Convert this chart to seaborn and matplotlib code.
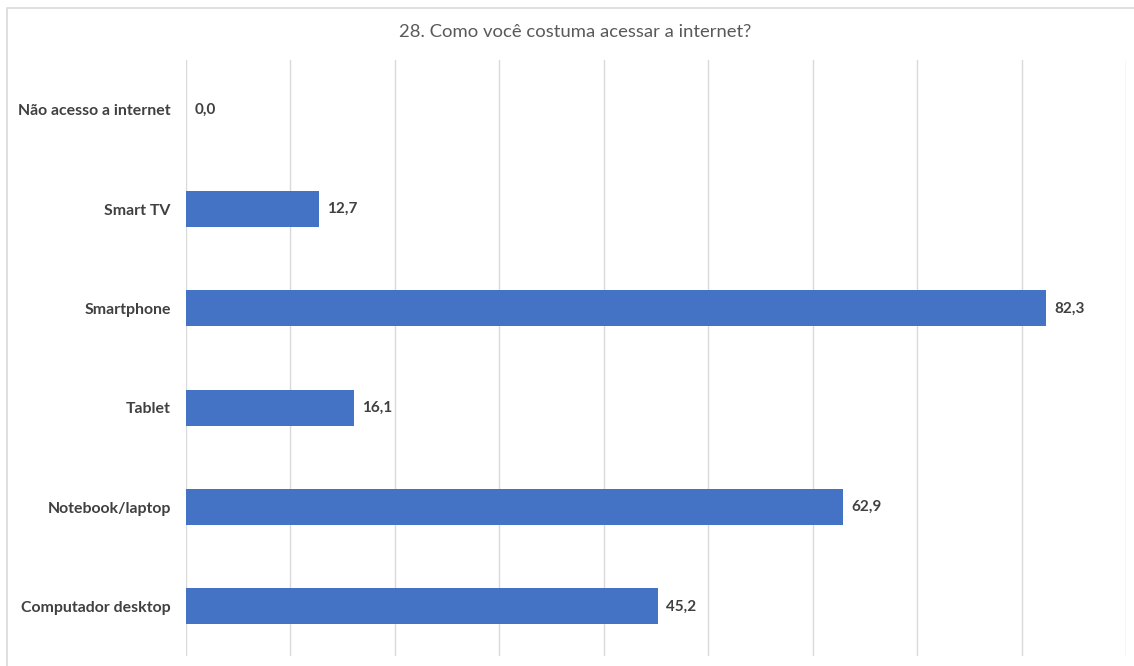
import matplotlib.pyplot as plt
import matplotlib.patches as mpatches
import pandas as pd
import seaborn as sns

# Dados do gráfico (de cima para baixo)
categorias = [
    "Não acesso a internet",
    "Smart TV",
    "Smartphone",
    "Tablet",
    "Notebook/laptop",
    "Computador desktop",
]
percentuais = [0.0, 12.7, 82.3, 16.1, 62.9, 45.2]
titulo = "28. Como você costuma acessar a internet?"

df = pd.DataFrame({"categoria": categorias, "valor": percentuais})

sns.set_style("white")
plt.rcParams["font.family"] = ["Lato", "DejaVu Sans"]

fig = plt.figure(figsize=(11.34, 6.66), dpi=100)
W, H = 1134, 666
ax = fig.add_axes([186 / W, 1 - 656 / H, (1126 - 186) / W, (656 - 60) / H])

sns.barplot(data=df, x="valor", y="categoria", orient="h", color="#4472C4",
            width=0.36, saturation=1, linewidth=0, ax=ax)

ax.set_xlim(0, 90)
ax.set_ylim(5.5, -0.5)
ax.set_xticks(range(0, 91, 10))
ax.set_xticklabels([])
ax.grid(axis="x", color="#d9d9d9", linewidth=1)
ax.set_axisbelow(True)
for s in ax.spines.values():
    s.set_visible(False)
ax.tick_params(axis="both", length=0)
ax.tick_params(axis="y", pad=11)
ax.set_xlabel("")
ax.set_ylabel("")
for lbl in ax.get_yticklabels():
    lbl.set_fontweight("bold")
    lbl.set_fontsize(11.4)
    lbl.set_color("#404040")

rotulos = [f"{v:.1f}".replace(".", ",") for v in percentuais]
ax.bar_label(ax.containers[0], labels=rotulos, padding=6, fontsize=11,
             fontweight="bold", color="#404040")

fig.text(575 / W, 1 - 32 / H, titulo, ha="center", va="center",
         fontsize=13.3, color="#595959")

# moldura do gráfico
fig.patches.append(mpatches.Rectangle((7 / W, -0.1), 1.2, 1 - 8 / H + 0.1,
                                      transform=fig.transFigure, fill=False,
                                      edgecolor="#d9d9d9", linewidth=1.2))

fig.savefig("out.png", dpi=100)
